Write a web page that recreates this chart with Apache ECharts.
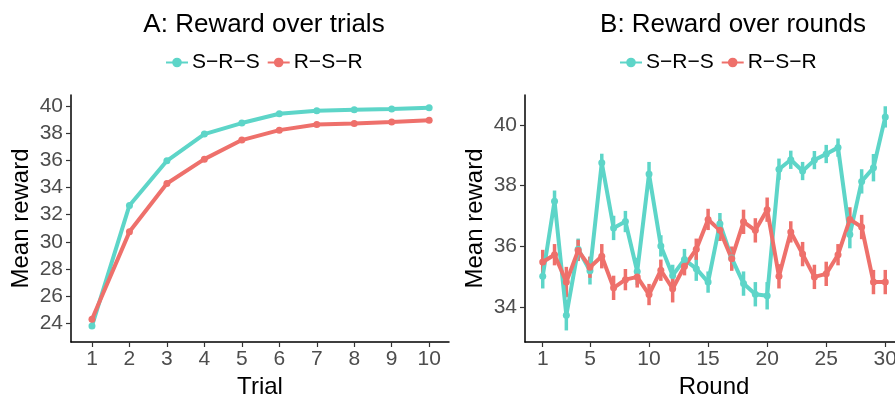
<!DOCTYPE html>
<html>
<head>
<meta charset="utf-8">
<script src="https://cdn.jsdelivr.net/npm/echarts@6/dist/echarts.min.js"></script>
<style>
  html, body { margin: 0; padding: 0; background: #fff; }
  #chart { width: 895px; height: 397px; }
</style>
</head>
<body>
<div id="chart"></div>
<script>
// panel A: reward over trials
const trials = [1, 2, 3, 4, 5, 6, 7, 8, 9, 10];
const trialSRS = [23.83, 32.68, 35.96, 37.92, 38.73, 39.41, 39.63, 39.71, 39.76, 39.85];
const trialRSR = [24.32, 30.74, 34.29, 36.08, 37.48, 38.21, 38.63, 38.70, 38.80, 38.93];
const trialErrSRS = [0.2, 0.1, 0.08, 0.07, 0.06, 0.06, 0.05, 0.05, 0.05, 0.05];
const trialErrRSR = [0.18, 0.1, 0.08, 0.07, 0.06, 0.06, 0.05, 0.05, 0.05, 0.05];

// panel B: reward over rounds
const rounds = Array.from({ length: 30 }, (_, i) => i + 1);
const roundSRS = [35.02, 37.49, 33.74, 35.91, 35.2, 38.75, 36.61, 36.82, 35.18, 38.38,
  36.02, 35.05, 35.57, 35.27, 34.83, 36.75, 35.62, 34.78, 34.43, 34.38,
  38.54, 38.85, 38.48, 38.84, 39.04, 39.25, 36.39, 38.14, 38.59, 40.26];
const roundRSR = [35.49, 35.73, 34.83, 35.87, 35.32, 35.68, 34.64, 34.91, 35.0, 34.42,
  35.22, 34.61, 35.35, 35.91, 36.89, 36.53, 35.6, 36.81, 36.53, 37.21,
  35.02, 36.48, 35.75, 35.0, 35.1, 35.73, 36.89, 36.64, 34.83, 34.83];
const roundErrSRS = [0.4, 0.35, 0.5, 0.35, 0.45, 0.3, 0.4, 0.35, 0.45, 0.4,
  0.35, 0.35, 0.35, 0.4, 0.35, 0.35, 0.35, 0.4, 0.4, 0.45,
  0.35, 0.3, 0.3, 0.3, 0.3, 0.3, 0.45, 0.4, 0.45, 0.35];
const roundErrRSR = [0.4, 0.35, 0.5, 0.35, 0.35, 0.4, 0.4, 0.35, 0.35, 0.35,
  0.35, 0.45, 0.3, 0.35, 0.35, 0.35, 0.4, 0.4, 0.4, 0.4,
  0.4, 0.35, 0.4, 0.4, 0.4, 0.35, 0.4, 0.4, 0.4, 0.4];

const trialTicks = [1, 2, 3, 4, 5, 6, 7, 8, 9, 10];
const trialYTicks = [24, 26, 28, 30, 32, 34, 36, 38, 40];
const roundTicks = [1, 5, 10, 15, 20, 25, 30];
const roundYTicks = [34, 36, 38, 40];

const TEAL = '#5DD5C8';
const RED = '#EE706B';
const FONT = 'Liberation Sans, Arial, sans-serif';
const NAME_SRS = 'S\u2212R\u2212S';
const NAME_RSR = 'R\u2212S\u2212R';

const chart = echarts.init(document.getElementById('chart'));

function pairs(xs, ys) {
  return xs.map((x, i) => [x, ys[i]]);
}

function errData(xs, ys, es) {
  return xs.map((x, i) => [x, ys[i] - es[i], ys[i] + es[i]]);
}

function errSeries(name, idx, data, color) {
  return {
    name: name,
    type: 'custom',
    xAxisIndex: idx,
    yAxisIndex: idx,
    data: data,
    encode: { x: 0, y: [1, 2] },
    silent: true,
    renderItem: function (params, api) {
      const a = api.coord([api.value(0), api.value(1)]);
      const b = api.coord([api.value(0), api.value(2)]);
      return {
        type: 'line',
        shape: { x1: a[0], y1: a[1], x2: b[0], y2: b[1] },
        style: { stroke: color, lineWidth: 3.5 }
      };
    }
  };
}

function lineSeries(name, idx, data, color) {
  return {
    name: name,
    type: 'line',
    xAxisIndex: idx,
    yAxisIndex: idx,
    data: data,
    symbol: 'circle',
    symbolSize: 7,
    showSymbol: true,
    itemStyle: { color: color },
    lineStyle: { color: color, width: 4 },
    emphasis: { disabled: true },
    animation: false
  };
}

function xAxis(idx, name, min, max, ticks) {
  return {
    type: 'value',
    gridIndex: idx,
    min: min,
    max: max,
    name: name,
    nameLocation: 'middle',
    nameGap: 31,
    nameTextStyle: { color: '#000', fontSize: 24, fontFamily: FONT },
    axisLine: { show: true, onZero: false, lineStyle: { color: '#000', width: 1.5 } },
    axisTick: { show: true, length: 5, customValues: ticks, lineStyle: { color: '#333', width: 1.2 } },
    axisLabel: { customValues: ticks, color: '#4D4D4D', fontSize: 21, fontFamily: FONT, margin: 7 },
    splitLine: { show: false }
  };
}

function yAxis(idx, min, max, ticks) {
  return {
    type: 'value',
    gridIndex: idx,
    min: min,
    max: max,
    name: 'Mean reward',
    nameLocation: 'middle',
    nameGap: 38,
    nameTextStyle: { color: '#000', fontSize: 24, fontFamily: FONT },
    axisLine: { show: true, onZero: false, lineStyle: { color: '#000', width: 1.5 } },
    axisTick: { show: true, length: 5, customValues: ticks, lineStyle: { color: '#333', width: 1.2 } },
    axisLabel: { customValues: ticks, color: '#4D4D4D', fontSize: 21, fontFamily: FONT, margin: 8 },
    splitLine: { show: false }
  };
}

function legend(left) {
  return {
    data: [NAME_SRS, NAME_RSR],
    left: left,
    top: 47,
    itemWidth: 22,
    itemHeight: 12,
    itemGap: 7,
    textStyle: { color: '#000', fontSize: 21, fontFamily: FONT, padding: [0, 0, 0, -1] },
    selectedMode: false
  };
}

const option = {
  animation: false,
  backgroundColor: '#fff',
  title: [
    { text: 'A: Reward over trials', left: 259, top: 7, textAlign: 'center',
      textStyle: { color: '#000', fontSize: 26, fontWeight: 'normal', fontFamily: FONT } },
    { text: 'B: Reward over rounds', left: 728, top: 7, textAlign: 'center',
      textStyle: { color: '#000', fontSize: 26, fontWeight: 'normal', fontFamily: FONT } }
  ],
  legend: [legend(160), legend(614)],
  grid: [
    { left: 71, right: 446, top: 95, bottom: 55, outerBoundsMode: 'none' },
    { left: 525, right: -8, top: 95, bottom: 55, outerBoundsMode: 'none' }
  ],
  xAxis: [
    xAxis(0, 'Trial', 0.44, 10.53, trialTicks),
    xAxis(1, 'Round', -0.5, 31.5, roundTicks)
  ],
  yAxis: [
    yAxis(0, 22.65, 40.79, trialYTicks),
    yAxis(1, 32.86, 40.98, roundYTicks)
  ],
  series: [
    errSeries('errA1', 0, errData(trials, trialSRS, trialErrSRS), TEAL),
    errSeries('errA2', 0, errData(trials, trialRSR, trialErrRSR), RED),
    lineSeries(NAME_SRS, 0, pairs(trials, trialSRS), TEAL),
    lineSeries(NAME_RSR, 0, pairs(trials, trialRSR), RED),
    errSeries('errB1', 1, errData(rounds, roundSRS, roundErrSRS), TEAL),
    errSeries('errB2', 1, errData(rounds, roundRSR, roundErrRSR), RED),
    lineSeries(NAME_SRS, 1, pairs(rounds, roundSRS), TEAL),
    lineSeries(NAME_RSR, 1, pairs(rounds, roundRSR), RED)
  ]
};

chart.setOption(option);
</script>
</body>
</html>
